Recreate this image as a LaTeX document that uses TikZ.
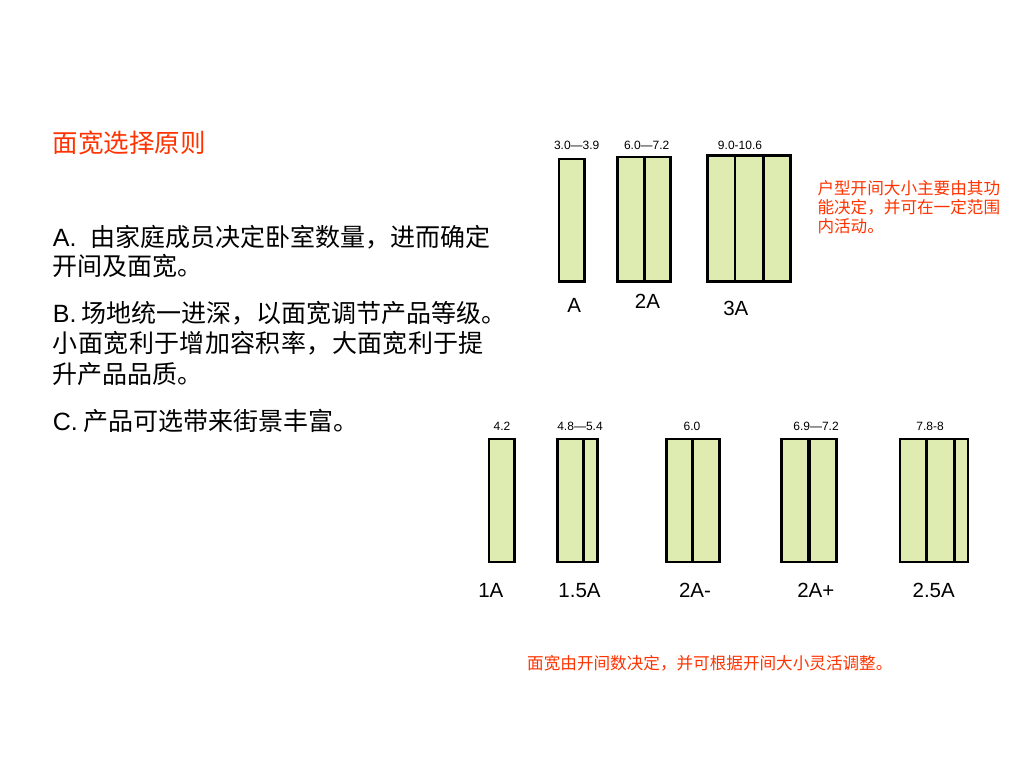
\documentclass[tikz,border=0pt]{standalone}
\usepackage{fontspec}
\setmainfont{Liberation Sans}
\newfontfamily\cjk{Noto Sans CJK SC}
\definecolor{cellfill}{RGB}{222,236,178}
\definecolor{redtxt}{RGB}{255,51,0}
\begin{document}
\begin{tikzpicture}[x=1pt,y=-1pt,
  cell/.style={draw=black,line width=2.6pt,fill=cellfill,line join=miter},
  thickdiv/.style={draw=black,line width=4.6pt},
  txt/.style={inner sep=0pt,anchor=base west},
  num/.style={inner sep=0pt,anchor=base,font=\fontsize{12}{14}\selectfont},
  lab/.style={inner sep=0pt,anchor=base,font=\fontsize{20.5}{24}\selectfont},
  body/.style={txt,font=\fontsize{25}{30}\selectfont},
  title/.style={txt,text=redtxt,font=\fontsize{25.5}{30}\selectfont\cjk},
  note/.style={txt,text=redtxt,font=\fontsize{16.6}{19}\selectfont\cjk},
]
\useasboundingbox[fill=white] (0,0) rectangle (1024,768);

% left text
\node[title] (title) at (52.7,152) {面宽选择原则};
\node[body] (a1) at (52.7,246) {A.\hspace{13.5pt}{\cjk 由家庭成员决定卧室数量，进而确定}};
\node[body] (a2) at (52.7,275) {\cjk 开间及面宽。};
\node[body] (b1) at (52.7,322) {B.\hspace{5.4pt}{\cjk 场地统一进深，以面宽调节产品等级。}};
\node[body] (b2) at (52.7,352.5) {\cjk\addfontfeature{LetterSpace=1.5}小面宽利于增加容积率，大面宽利于提};
\node[body] (b3) at (52.7,383) {\cjk 升产品品质。};
\node[body] (c1) at (52.7,430) {C.\hspace{5.6pt}{\cjk 产品可选带来街景丰富。}};

% right note
\node[note] (n1) at (817.3,194) {户型开间大小主要由其功};
\node[note] (n2) at (817.3,213) {能决定，并可在一定范围};
\node[note] (n3) at (817.3,232) {内活动。};

% bottom note
\node[note] (n4) at (527,669) {面宽由开间数决定，并可根据开间大小灵活调整。};

% top row cells
\draw[cell] (559,158.8) rectangle (584.2,281.2);
\draw[cell] (617.5,156.8) rectangle (644.3,281.2);
\draw[cell] (644.3,156.8) rectangle (670.2,281.2);
\draw[cell] (707.5,155.5) rectangle (735,281.2);
\draw[cell] (735,155.5) rectangle (763.3,281.2);
\draw[cell] (763.3,155.5) rectangle (790.3,281.2);

\node[num] (tA) at (576.7,149) {3.0—3.9};
\node[num] (t2A) at (646.7,149) {6.0—7.2};
\node[num] (t3A) at (740,149) {9.0-10.6};

\node[lab] (lA) at (574.3,312.5) {A};
\node[lab] (l2A) at (647.5,308.5) {2A};
\node[lab] (l3A) at (735.8,315) {3A};

% bottom row cells
\draw[cell] (488.8,438.8) rectangle (514.2,561.8);
\draw[cell] (557.2,438.8) rectangle (583.3,561.8);
\draw[cell] (583.3,438.8) rectangle (597.5,561.8);
\draw[cell] (666.5,438.8) rectangle (692.3,561.8);
\draw[cell] (692.3,438.8) rectangle (719.2,561.8);
\draw[cell] (781.5,438.8) rectangle (836.2,561.8);
\draw[thickdiv] (809,438.8) -- (809,561.8);
\draw[cell] (899.8,438.8) rectangle (926.7,561.8);
\draw[cell] (926.7,438.8) rectangle (954.3,561.8);
\draw[cell] (954.3,438.8) rectangle (967.8,561.8);

\node[num] (b1A) at (502,430) {4.2};
\node[num] (b15A) at (580,430) {4.8—5.4};
\node[num] (b2Am) at (692,430) {6.0};
\node[num] (b2Ap) at (816,430) {6.9—7.2};
\node[num] (b25A) at (930,430) {7.8-8};

\node[lab] (l1A) at (490.8,597) {1A};
\node[lab] (l15A) at (579.5,597) {1.5A};
\node[lab] (l2Am) at (695,597) {2A-};
\node[lab] (l2Ap) at (815.8,597) {2A+};
\node[lab] (l25A) at (933.7,597) {2.5A};
\end{tikzpicture}
\end{document}
